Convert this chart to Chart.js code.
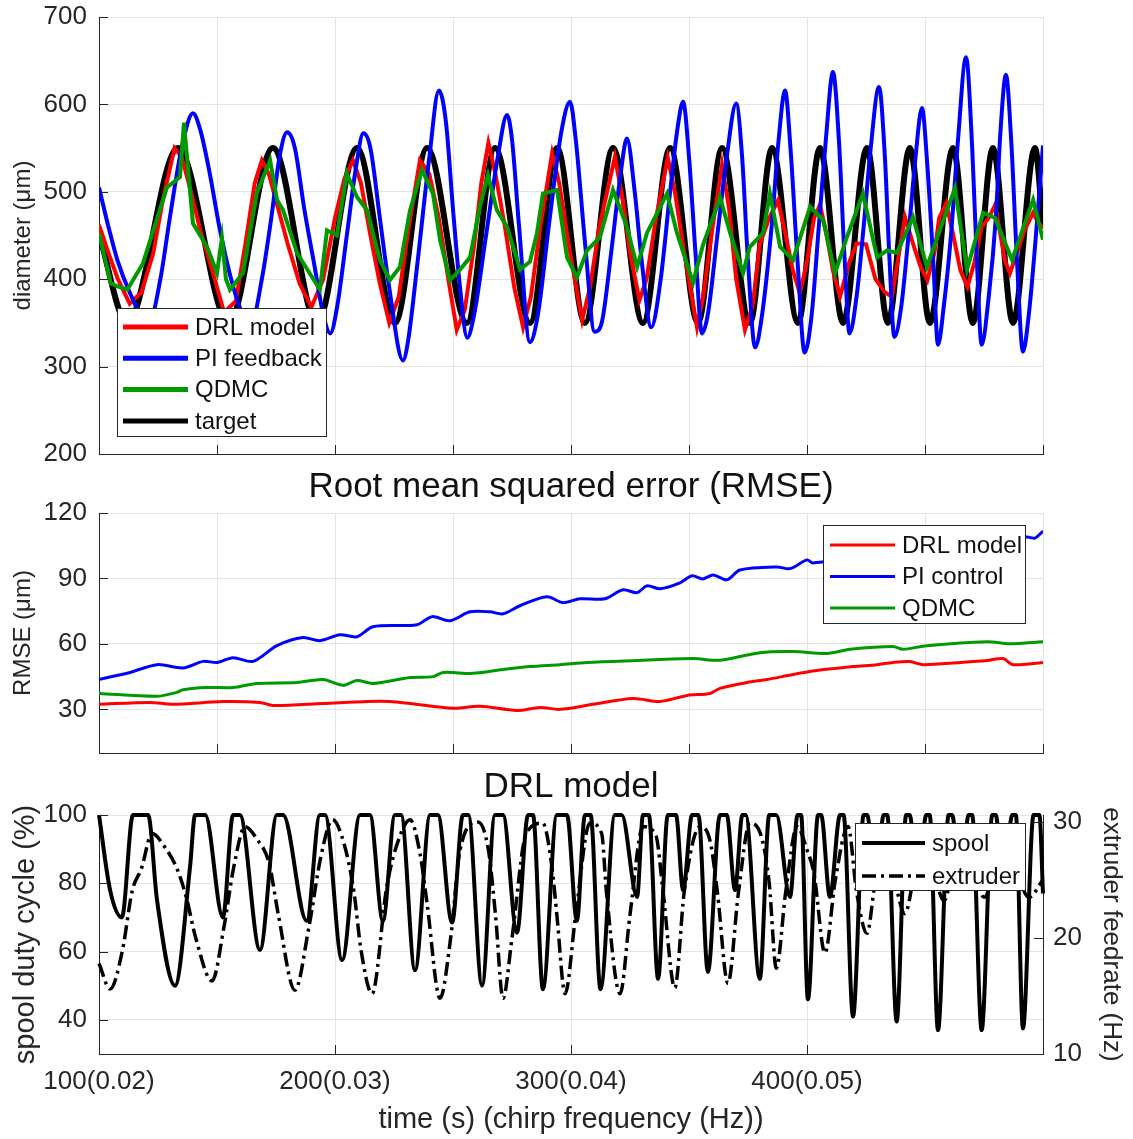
<!DOCTYPE html>
<html>
<head>
<meta charset="utf-8">
<script src="https://cdn.jsdelivr.net/npm/chart.js@4/dist/chart.umd.min.js"></script>
<style>
  body { margin: 0; background: #fff; }
  canvas { position: absolute; left: 0; }
</style>
</head>
<body>
<canvas id="diam" width="1133" height="470" style="top:0"></canvas>
<canvas id="rmse" width="1133" height="300" style="top:470px"></canvas>
<canvas id="duty" width="1133" height="369" style="top:770px"></canvas>
<script>
// ---- diameter (um) vs time (s) ----
const target = [[100,452],[112,350],[133.5,550],[155,350],[173.7,550],[192.4,350],[209.3,550],[225.4,350],[239,550],[255.9,350],[267.8,550],[282.6,350],[294.1,550],[305.9,350],[317.8,550],[330.5,350],[342,550],[353.8,350],[364,550],[375.8,350],[385.2,550],[396.2,350],[405.5,550],[415.3,350],[425.4,550],[434.3,350],[443.6,550],[452.1,350],[461.9,550],[470.3,350],[478.8,550],[487.3,350],[496.6,550],[500,460]];

const drl = [[100,462],[104,430],[108,400],[113,372],[118,385],[123,430],[127,490],[132,550],[135,540],[139,500],[143,455],[148,410],[153,362],[158,375],[162,440],[166,510],[169,536],[172,520],[176,480],[180,440],[185,395],[190,368],[195,400],[200,470],[204,515],[207.6,536],[211,510],[215,450],[219,395],[223,350],[227,380],[231,455],[236,536],[240,520],[244,470],[248,400],[251.6,342],[255,365],[259,440],[262,510],[265,556],[268,520],[272,460],[276,390],[279.7,345],[283,380],[287,460],[292,544],[295,510],[299,440],[304.7,353],[308,390],[312,460],[318.6,540],[322,490],[325,430],[329,376],[332,400],[336,470],[341,539],[344,500],[348,430],[353.4,345],[356,380],[360,460],[364,531],[367,480],[370,400],[373.7,342],[377,370],[380,440],[384,470],[387.7,490],[391,450],[394,410],[397,384],[400,420],[403,470],[405.5,485],[408,455],[411,410],[414,380],[418,420],[421,441],[425,440],[429,400],[433,385],[436,380],[439,430],[441.5,471],[445,440],[448,415],[451,399],[454,430],[456,470],[459,487],[462,450],[465,410],[468,391],[471,420],[474,460],[477,470],[479.7,485],[482,450],[484,420],[486,407],[489,430],[492,455],[495.8,476],[498,465],[500,458]];

const piFb = [[100,505],[104,460],[108,420],[113,385],[118,360],[122,358],[126,400],[130,470],[135,550],[139.8,590],[143,570],[147,520],[151,460],[156,400],[161,360],[165,355],[169,400],[173,470],[176.5,540],[179.7,568],[183,550],[187,480],[191,420],[195,360],[198,338],[201,370],[205,450],[209,530],[212,567],[215,550],[219,470],[223,390],[228.8,307],[231,330],[235,420],[240,540],[244,616],[247,580],[250,480],[253,390],[256,333],[259,360],[264,450],[269,540],[272.9,588],[275,560],[278,460],[282.6,328],[286,360],[291,470],[296,570],[299.6,603],[302,560],[306,440],[310,340],[313,350],[317,430],[321,520],[323.7,561],[327,500],[330,420],[334,345],[338,400],[342,500],[345,570],[347.5,603],[350,540],[353,420],[355.5,338],[358,360],[362,450],[366,540],[370,601],[372.5,540],[375,420],[378,322],[381,360],[385,460],[388,560],[390.7,616],[393,550],[396,420],[399,316],[402,360],[405,460],[408,560],[411,637],[413.5,560],[416,420],[418,338],[421,380],[424,460],[427,550],[430.5,620],[433,540],[435,420],[437,334],[440,370],[443,450],[446,540],[448.7,596],[451,530],[453.5,420],[455.5,325],[458,370],[461,450],[464,560],[467.4,654],[470,550],[472,420],[474,325],[477,380],[480,470],[482,570],[484.3,634],[486.5,560],[489,420],[491.5,317],[494,360],[497,450],[500,553]];

const qdmc = [[100,453],[105,395],[107.6,392],[112,388],[118.6,418],[128.8,505],[134.3,517],[136,579],[139.8,464],[145.8,437],[150,407],[152.1,447],[153.8,400],[155.5,388],[161,407],[166.9,499],[172.5,536],[175.4,491],[178,479],[183.9,430],[193.6,388],[196.6,456],[200.8,450],[205,521],[209.3,494],[213.6,479],[219,422],[223.3,399],[227.5,414],[231.8,479],[236.9,525],[241.5,498],[244.5,445],[248.7,399],[253,411],[257.2,425],[261.4,483],[264.8,519],[268.6,479],[272.9,460],[278.4,411],[282.6,420],[285.6,453],[288.1,498],[294.1,502],[298.3,425],[302.5,402],[306.8,433],[312.3,448],[317.8,502],[323.7,460],[328,414],[332.2,453],[340.7,498],[344.9,453],[351.7,396],[356,440],[361.9,483],[363.1,494],[367.4,453],[372.9,407],[375.8,437],[381.4,453],[384.3,498],[388.6,437],[394.1,422],[401.3,483],[406.8,468],[411.9,407],[416.9,448],[423.7,498],[429.7,425],[433.9,433],[438.1,430],[444.9,471],[450.8,414],[459.3,479],[462.7,504],[467.8,411],[474.6,476],[479.7,470],[486.9,422],[495.8,491],[500,445]];

// ---- running RMSE (um) ----
const rmseDrl = [[100,32.3],[121.6,33.2],[131.4,32.3],[152.5,33.6],[168.2,33.2],[173.7,31.8],[194.9,32.7],[213.6,33.6],[223.3,33.6],[231.8,32.7],[250,30.5],[261.4,31.4],[277.1,29.5],[286.9,30.9],[295.3,30],[309.3,32.3],[326.3,35],[337.7,33.6],[349.2,36.4],[358.9,37.3],[363.1,39.6],[374.6,42.3],[383.1,43.7],[394.1,46],[404.2,47.8],[419.5,49.6],[429.7,50.5],[436.4,51.5],[443.6,51.9],[449.2,50.5],[464.8,51.5],[476.3,52.4],[483.1,53.3],[487.3,50.5],[500,51.5]];

const rmsePi = [[100,43.7],[113.1,46.9],[124.6,50.5],[135.6,49],[144.1,52],[150,51.5],[156.8,53.7],[165.3,52],[175.4,59.2],[186.4,62.9],[193.6,61.5],[202.1,64.2],[209.3,63.3],[216.1,67.9],[234.7,68.8],[241.1,72.5],[248.7,70.6],[257.2,74.7],[265.7,74.7],[271.2,73.8],[278.4,77.5],[289.8,81.6],[296.6,78.9],[303.8,80.7],[314.4,80.7],[322,84.8],[328,83.5],[332.2,86.6],[337.7,85.3],[346.2,88],[351.3,91.2],[355.9,89.8],[360.2,91.6],[366.1,89.4],[371.6,93.9],[387.3,95.3],[392.8,94.5],[400,98.5],[402.5,97.1],[430,101],[455,104],[475,106],[493.2,109],[496.6,108.5],[500,111.7]];

const rmseQdmc = [[100,37.3],[124.6,36],[133,37.8],[135.6,39],[145.8,40],[156.8,40],[166.9,41.9],[183.9,42.3],[194.9,43.7],[203.4,41],[209.3,43.2],[216.1,41.9],[231.8,44.6],[241.5,45],[245.8,46.9],[258.5,46.5],[271.2,48.3],[282.6,49.6],[295.3,50.5],[306.8,51.5],[328,52.4],[351.7,53.3],[363.1,52.5],[380.1,56],[394.1,56.5],[408.5,55.6],[418.2,57.5],[436.4,58.8],[440.7,57.5],[450.8,59.2],[476.3,61],[486,60.1],[500,61]];

// ---- DRL actions: spool duty cycle (%) and extruder feedrate (Hz) ----
const spool = [[100,100],[104.7,78],[109.7,70],[114.4,100],[120.8,100],[124.6,75],[132.2,50],[138.6,85],[140.7,100],[145,100],[152.5,70],[156.8,100],[159.7,100],[168.2,60.5],[175.4,100],[178,100],[188,69],[193.6,100],[195.8,100],[203,57.5],[210.6,100],[214.8,100],[220.3,69],[225.4,100],[228,100],[233.9,54.5],[240.3,100],[243.6,100],[249.6,68.5],[254.2,100],[256.5,100],[262.3,50],[267.8,100],[271.2,100],[277.1,65.5],[281.8,100],[283.9,100],[288.1,49],[294,100],[298.3,100],[302.5,69],[305.9,100],[308.3,100],[312.5,49],[318.6,100],[321.5,100],[328,76],[330.5,100],[333,100],[336.9,52],[341,100],[344.5,100],[347.5,78],[351.3,100],[354,100],[358,54],[363.1,100],[366,100],[369.5,78],[372.6,100],[374,100],[380,52],[384,100],[387,100],[392.8,76],[396,100],[397.5,100],[400.4,46],[404.7,100],[406,100],[409.7,76],[414,100],[415.5,100],[419.5,41],[424,100],[425.5,100],[429,79],[432.5,100],[434,100],[438,39.5],[442,100],[443.5,100],[447,79],[450.5,100],[452,100],[455.5,37],[460,100],[461.5,100],[465,79],[468.5,100],[470,100],[474,37],[478.5,100],[480,100],[483,79],[487,100],[488.5,100],[491.5,37.5],[496,100],[498.5,100],[500,77]];

const extruder = [[100,17.8],[104.7,15.6],[110,19],[114,24],[118,26],[122.5,29],[128,27.8],[133,26],[137,23.5],[141,20],[147.9,16.3],[153,21],[157,26],[161.9,29.6],[167,28.5],[172,26.5],[176,22],[183,15.5],[189,21],[194,27],[199,30.2],[204,28],[208,24],[211,19],[215.7,15.2],[222,24.5],[227,28.5],[231.8,30.2],[236,27.3],[239,23],[244.5,14.8],[249,20],[253,27.6],[260.6,30],[265,27.6],[268,22],[271.2,14.8],[275,20],[281,29],[288,29.9],[292,26],[294,22],[297.5,15.2],[302,22],[308,29.9],[313,29],[315,24],[320.8,15.2],[325,22],[330.5,29.6],[336,28.8],[339,24],[344,15.7],[348,24],[354.7,29.6],[359,28.3],[362,24],[366.5,16.1],[371,24],[375.8,29.9],[381,28.5],[384,24.7],[387,17.4],[391,24],[395.8,29.6],[400,27.6],[403,25.5],[407.6,18.7],[412,25],[417.4,29.6],[421,24],[425.4,20.4],[429,25],[433,28],[437,25],[441.5,22.1],[446,26],[450,28],[454,25.5],[458,23.2],[462,26],[467,28.5],[471,26],[475,23.5],[480,26],[485,28],[490,25],[494,23.5],[500,25]];

// axis ticks and labels
const xTicksFine = [100,150,200,250,300,350,400,450,500];
const xTicksMain = [100,200,300,400,500];
const xTickText = ['100(0.02)','200(0.03)','300(0.04)','400(0.05)',''];
const diamTicks = [200,300,400,500,600,700];
const rmseTicks = [30,60,90,120];
const dutyTicks = [40,60,80,100];
const feedTicks = [10,20,30];

const RED = '#ff0000', BLUE = '#0000ff', GREEN = '#009a00', BLACK = '#000000';
const AXIS = '#262626', GRID = '#e4e4e4';
const FONT = '"Liberation Sans", Arial, Helvetica, sans-serif';
const TICK_SIZE = 26, LABEL_SIZE = 29, TEX_LABEL_SIZE = 24, TITLE_SIZE = 35;

Chart.defaults.font.family = FONT;
Chart.defaults.color = AXIS;
Chart.defaults.animation = false;

const xy = rows => rows.map(([x, y]) => ({ x, y }));
const useTicks = vals => scale => { scale.ticks = vals.map(v => ({ value: v })); };
// fixed axis width; labels at the ends may overhang instead of shrinking the plot
const fixWidth = w => s => { s.width = w; s.paddingTop = 0; s.paddingBottom = 0; };

// matlab style: short tick marks pointing into the plot
const innerTicks = {
  id: 'innerTicks',
  afterDatasetsDraw(chart, args, o) {
    const ctx = chart.ctx, a = chart.chartArea;
    ctx.save();
    ctx.strokeStyle = AXIS;
    ctx.lineWidth = 1;
    Object.values(chart.scales).forEach(s => {
      s.ticks.forEach(t => {
        const p = Math.round(s.getPixelForValue(t.value)) + 0.5;
        ctx.beginPath();
        if (s.axis === 'x') { ctx.moveTo(p, a.bottom); ctx.lineTo(p, a.bottom - o.len); }
        else if (s.position === 'left') { ctx.moveTo(a.left, p); ctx.lineTo(a.left + o.len, p); }
        else { ctx.moveTo(a.right, p); ctx.lineTo(a.right - o.len, p); }
        ctx.stroke();
      });
    });
    ctx.restore();
  }
};

// boxed legend sitting inside the axes
const boxLegend = {
  id: 'boxLegend',
  afterDraw(chart, args, o) {
    const ctx = chart.ctx;
    ctx.save();
    ctx.fillStyle = '#fff';
    ctx.fillRect(o.x, o.y, o.w, o.h);
    ctx.strokeStyle = AXIS;
    ctx.lineWidth = 1;
    ctx.strokeRect(o.x + 0.5, o.y + 0.5, o.w, o.h);
    ctx.font = '24px ' + FONT;
    ctx.textBaseline = 'middle';
    o.show.forEach((idx, i) => {
      const ds = chart.data.datasets[idx];
      const y = o.y + o.top + i * o.gap;
      ctx.strokeStyle = ds.borderColor;
      ctx.lineWidth = o.lw || ds.borderWidth;
      ctx.setLineDash(ds.borderDash || []);
      ctx.beginPath();
      ctx.moveTo(o.x + o.pad, y);
      ctx.lineTo(o.x + o.pad + o.line, y);
      ctx.stroke();
      ctx.setLineDash([]);
      ctx.fillStyle = '#111';
      ctx.fillText(ds.label, o.x + o.pad + o.line + 7, y + 1);
    });
    ctx.restore();
  }
};

function timeAxis(ticks, height, extra) {
  return Object.assign({
    type: 'linear', min: 100, max: 500,
    afterBuildTicks: useTicks(ticks),
    afterFit: s => { s.height = height; },
    ticks: { display: false },
    grid: { color: GRID, drawTicks: false },
    border: { color: AXIS }
  }, extra || {});
}

function leftAxis(min, max, ticks, title, size) {
  return {
    position: 'left', min, max,
    afterBuildTicks: useTicks(ticks),
    afterFit: fixWidth(99),
    ticks: { padding: 12, font: { size: TICK_SIZE } },
    grid: { color: GRID, drawTicks: false },
    border: { color: AXIS },
    title: { display: true, text: title, font: { size: size }, padding: { top: 9, bottom: 0 } }
  };
}

const panelTitle = (text, below) => ({
  display: true, text, fullSize: false, color: '#111',
  font: { size: TITLE_SIZE, weight: 'normal', lineHeight: 1 },
  padding: { top: 0, bottom: below }
});

// top: measured diameter for each controller against the chirp target
new Chart(document.getElementById('diam'), {
  type: 'line',
  data: {
    datasets: [
      { label: 'DRL model', data: xy(drl), borderColor: RED, borderWidth: 4, order: 3 },
      { label: 'PI feedback', data: xy(piFb), borderColor: BLUE, borderWidth: 4, order: 2, cubicInterpolationMode: 'monotone' },
      { label: 'QDMC', data: xy(qdmc), borderColor: GREEN, borderWidth: 4, order: 1 },
      { label: 'target', data: xy(target), borderColor: BLACK, borderWidth: 6, order: 4, cubicInterpolationMode: 'monotone' }
    ]
  },
  options: {
    responsive: false,
    layout: { padding: { top: 17, right: 90, bottom: 16, left: 0 } },
    elements: { point: { radius: 0 }, line: { tension: 0 } },
    plugins: {
      legend: { display: false }, tooltip: { enabled: false },
      innerTicks: { len: 9 },
      boxLegend: { x: 117, y: 308, w: 209, h: 128, top: 19, gap: 31.3, pad: 6, line: 65, lw: 5, show: [0, 1, 2, 3] }
    },
    scales: {
      x: timeAxis(xTicksFine, 0),
      y: leftAxis(200, 700, diamTicks, 'diameter (μm)', TEX_LABEL_SIZE)
    }
  },
  plugins: [innerTicks, boxLegend]
});

// middle: RMSE
new Chart(document.getElementById('rmse'), {
  type: 'line',
  data: {
    datasets: [
      { label: 'DRL model', data: xy(rmseDrl), borderColor: RED, borderWidth: 3 },
      { label: 'PI control', data: xy(rmsePi), borderColor: BLUE, borderWidth: 3 },
      { label: 'QDMC', data: xy(rmseQdmc), borderColor: GREEN, borderWidth: 3 }
    ]
  },
  options: {
    responsive: false,
    layout: { padding: { top: 0, right: 90, bottom: 17, left: 0 } },
    elements: { point: { radius: 0 }, line: { tension: 0.3 } },
    plugins: {
      legend: { display: false }, tooltip: { enabled: false },
      title: panelTitle('Root mean squared error (RMSE)', 8),
      innerTicks: { len: 9 },
      boxLegend: { x: 823, y: 55, w: 202, h: 98, top: 20, gap: 31.5, pad: 7, line: 65, show: [0, 1, 2] }
    },
    scales: {
      x: timeAxis(xTicksFine, 0),
      y: leftAxis(10, 120, rmseTicks, 'RMSE (μm)', TEX_LABEL_SIZE)
    }
  },
  plugins: [innerTicks, boxLegend]
});

// bottom: DRL model actions on two y axes
new Chart(document.getElementById('duty'), {
  type: 'line',
  data: {
    datasets: [
      { label: 'spool', data: xy(spool), borderColor: BLACK, borderWidth: 4, yAxisID: 'y', clip: 6 },
      { label: 'extruder', data: xy(extruder), borderColor: BLACK, borderWidth: 3.5, borderDash: [14, 5, 3, 5], yAxisID: 'y1', clip: 6 }
    ]
  },
  options: {
    responsive: false,
    layout: { padding: 0 },
    elements: { point: { radius: 0 }, line: { cubicInterpolationMode: 'monotone' } },
    plugins: {
      legend: { display: false }, tooltip: { enabled: false },
      title: panelTitle('DRL model', 10),
      innerTicks: { len: 9 },
      boxLegend: { x: 855, y: 53, w: 170, h: 67, top: 20, gap: 33, pad: 7, line: 63, show: [0, 1] }
    },
    scales: {
      x: timeAxis(xTicksMain, 85, {
        ticks: { display: true, padding: 12, font: { size: TICK_SIZE }, maxRotation: 0, autoSkip: false,
                 callback: v => xTickText[xTicksMain.indexOf(v)] },
        title: { display: true, text: 'time (s) (chirp frequency (Hz))', font: { size: LABEL_SIZE }, padding: { top: 0, bottom: 2 } }
      }),
      y: leftAxis(30, 100, dutyTicks, 'spool duty cycle (%)', LABEL_SIZE),
      y1: {
        position: 'right', min: 10, max: 30.6,
        afterBuildTicks: useTicks(feedTicks),
        afterFit: fixWidth(90),
        ticks: { padding: 10, font: { size: TICK_SIZE } },
        grid: { drawOnChartArea: false, drawTicks: false },
        border: { color: AXIS },
        title: { display: true, text: 'extruder feedrate (Hz)', font: { size: 26 }, padding: { top: 6, bottom: 0 } }
      }
    }
  },
  plugins: [innerTicks, boxLegend]
});
</script>
</body>
</html>
